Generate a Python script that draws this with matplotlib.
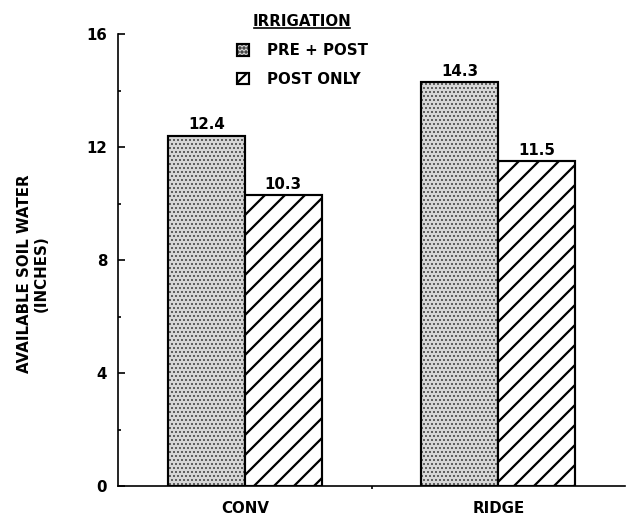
import matplotlib
matplotlib.use("Agg")
import matplotlib.pyplot as plt
from matplotlib.patches import Patch
from matplotlib.lines import Line2D
import numpy as np

categories = ["CONV", "RIDGE"]
pre_post = [12.4, 14.3]
post_only = [10.3, 11.5]
series_labels = ["PRE + POST", "POST ONLY"]
legend_title = "IRRIGATION"
ylabel = "AVAILABLE SOIL WATER\n(INCHES)"
yticks = [0, 4, 8, 12, 16]

plt.rcParams['font.family'] = ['DejaVu Sans']
plt.rcParams['font.weight'] = 'bold'
FS = 9

DPI = 120
fig = plt.figure(figsize=(626 / DPI, 517 / DPI), dpi=DPI)
ax = fig.add_axes([118 / 626, 31 / 517, (625 - 118) / 626, (486 - 34) / 517])

x = np.arange(len(categories))
w = 0.303
DOT_LW, LINE_LW = 0.45, 1.35

plt.rcParams['hatch.linewidth'] = DOT_LW
b1 = ax.bar(x - w / 2, pre_post, w, facecolor='#d6d6d6', edgecolor='black',
            hatch='.....', linewidth=1.3, zorder=2)
plt.rcParams['hatch.linewidth'] = LINE_LW
b2 = ax.bar(x + w / 2, post_only, w, facecolor='white', edgecolor='black',
            hatch='//', linewidth=1.3, zorder=2)
for p in b1:
    try:
        p.set_hatch_linewidth(DOT_LW)
    except Exception:
        pass
for p in b2:
    try:
        p.set_hatch_linewidth(LINE_LW)
    except Exception:
        pass

for bars, vals in ((b1, pre_post), (b2, post_only)):
    for r, v in zip(bars, vals):
        ax.annotate(f"{v:.1f}", (r.get_x() + r.get_width() / 2, v),
                    xytext=(0, 2), textcoords='offset points',
                    ha='center', va='bottom', fontsize=FS, fontweight='bold')

ax.set_xlim(-0.5, 1.5)
ax.set_ylim(0, 16)
ax.set_yticks(yticks)
ax.set_yticks([2, 6, 10, 14], minor=True)
ax.set_xticks(x)
ax.set_xticklabels(categories, fontsize=FS, fontweight='bold')
ax.set_xticks([0.5], minor=True)
ax.tick_params(axis='x', which='major', length=0, pad=9)
ax.tick_params(axis='x', which='minor', length=2, direction='out', width=1)
ax.tick_params(axis='y', which='major', direction='in', length=4, width=1,
               labelsize=FS, pad=6.5)
ax.tick_params(axis='y', which='minor', direction='in', length=2, width=1)
for lab in ax.get_yticklabels():
    lab.set_fontweight('bold')

for s in ('top', 'right'):
    ax.spines[s].set_visible(False)
for s in ('left', 'bottom'):
    ax.spines[s].set_linewidth(1.0)

fig.text(33 / 626, 1 - 274 / 517, ylabel, rotation=90, ha='center', va='center',
         fontsize=FS, fontweight='bold', linespacing=1.15)

handles = [Patch(facecolor='#d6d6d6', edgecolor='black', hatch='.....', linewidth=1.3),
           Patch(facecolor='white', edgecolor='black', hatch='//', linewidth=1.3)]
leg = ax.legend(handles, series_labels, title=legend_title, frameon=False,
                loc='upper left', bbox_to_anchor=(226 / 626, 1 - 4 / 517),
                bbox_transform=fig.transFigure, fontsize=FS,
                title_fontproperties={'weight': 'bold', 'size': FS},
                handlelength=0.85, handleheight=0.8, handletextpad=1.2,
                labelspacing=0.9, borderpad=0.2)
for t in leg.get_texts():
    t.set_fontweight('bold')

fig.canvas.draw()
tb = leg.get_title().get_window_extent(fig.canvas.get_renderer())
inv = fig.transFigure.inverted()
(x0, y0), (x1, y1) = inv.transform([(tb.x0 + 1, tb.y0), (tb.x1 - 2, tb.y1)])
fig.add_artist(Line2D([x0, x1], [y0 + 0.002, y0 + 0.002], color='black', lw=1.0,
                      transform=fig.transFigure))

fig.savefig("out.png", dpi=DPI)
